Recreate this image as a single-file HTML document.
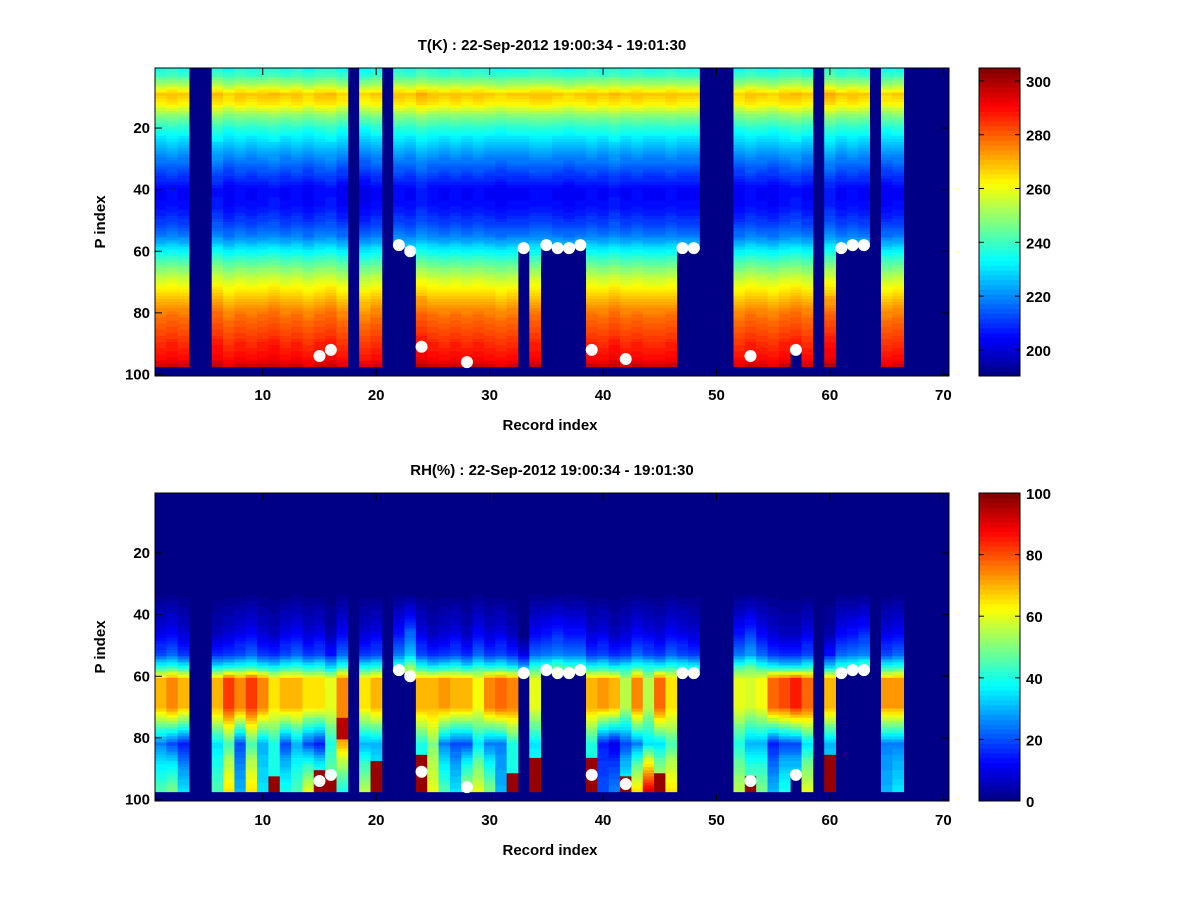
<!DOCTYPE html>
<html><head><meta charset="utf-8"><style>
body{margin:0;background:#fff;}
svg text{font-family:"Liberation Sans",sans-serif;font-weight:bold;font-size:15px;fill:#000;}
</style></head><body>
<svg id="fig" width="1200" height="900" xmlns="http://www.w3.org/2000/svg">
<rect width="1200" height="900" fill="#fff"/>
</svg>
<script>
// ---- data ----
const records = Array.from({length:70},(_,i)=>i+1);
const missingRecords = [4,5,18,21,49,50,51,59,64,67,68,69,70];
const cutRecords = [22,23,33,35,36,37,38,47,48,57,61,62,63];
const cutP =       [58,60,59,58,59,59,58,59,59,92,59,58,58];
const lastDataP = 97;
const tKnotsP = [1,3,6,9,12,16,20,28,35,40,45,50,55,60,65,70,75,80,85,90,95,97];
const tKnotsV = [236,240,252,268,263,248,237,222,211,204,205,210,218,233,246,258,268,276,281,286,290,295];
const tOffset = [0,1,0,0,0,2,-1,1,0,1,2,0,1,-1,1,2,-1,0,-2,0,0,1,0,3,1,0,1,0,1,0,-1,0,0,1,1,0,-1,0,1,0,2,0,1,0,0,1,0,0,0,0,0,-1,1,0,-1,1,2,0,0,3,0,1,0,0,-1,0,0,0,0,0];
const rhUpper = [10,12,8,0,0,6,8,10,12,8,6,10,12,8,10,4,12,0,8,10,0,14,22,10,6,8,10,6,12,8,10,6,0,12,14,16,14,14,8,10,6,8,12,10,8,12,10,8,0,0,0,14,18,12,8,6,6,10,0,4,12,14,16,0,10,12,0,0,0,0];
const rhMid = [70,75,70,0,0,70,82,75,82,75,65,70,70,65,65,60,75,0,65,70,0,55,60,70,70,72,70,70,62,75,78,75,60,60,55,55,55,55,70,72,70,55,75,55,78,65,55,55,0,0,0,60,58,62,78,80,85,78,0,70,55,55,55,0,72,72,0,0,0,0];
const rhLow = [25,20,15,0,0,35,45,20,45,30,40,20,30,20,15,40,70,0,30,30,0,30,30,40,50,25,20,20,35,25,25,40,35,35,30,30,30,30,40,15,10,20,25,35,35,45,30,30,0,0,0,40,30,30,15,20,20,35,0,30,30,30,30,0,25,25,0,0,0,0];
const rhBot = [45,50,35,0,0,45,65,30,65,35,40,40,45,60,55,50,40,0,55,40,0,40,40,40,60,45,35,55,60,50,30,40,45,45,40,40,40,40,40,20,25,40,65,90,60,65,40,40,0,0,0,55,50,50,30,40,40,60,0,40,40,40,40,0,30,35,0,0,0,0];
const rhSpikeP = [0,0,0,0,0,0,0,0,0,0,93,0,0,0,91,93,0,0,0,88,0,0,0,86,0,0,0,0,0,0,0,92,0,87,0,0,0,0,87,0,0,93,0,0,92,0,0,0,0,0,0,0,93,0,0,0,0,0,0,86,0,0,0,0,0,0,0,0,0,0];
const dotRec = [15,16,22,23,24,28,33,35,36,37,38,39,42,47,48,53,57,61,62,63];
const dotP =   [94,92,58,60,91,96,59,58,59,59,58,92,95,59,59,94,92,59,58,58];
const xTicks = [10,20,30,40,50,60,70];
const yTicks = [20,40,60,80,100];
const tCbTicks = [200,220,240,260,280,300];
const rhCbTicks = [0,20,40,60,80,100];

// ---- helpers ----
const NS="http://www.w3.org/2000/svg";
const svg=document.getElementById('fig');
function mk(tag,attrs,parent){const e=document.createElementNS(NS,tag);for(const k in attrs)e.setAttribute(k,attrs[k]);(parent||svg).appendChild(e);return e;}
function jet(f){f=Math.max(0,Math.min(1,f));f=(Math.floor(f*63.999)+0.5)/64;
 const c=v=>Math.round(255*Math.max(0,Math.min(1,v)));
 return `rgb(${c(1.5-Math.abs(4*f-3))},${c(1.5-Math.abs(4*f-2))},${c(1.5-Math.abs(4*f-1))})`;}
function interp(kp,kv,p){if(p<=kp[0])return kv[0];for(let i=1;i<kp.length;i++){if(p<=kp[i]){const t=(p-kp[i-1])/(kp[i]-kp[i-1]);return kv[i-1]+t*(kv[i]-kv[i-1]);}}return kv[kv.length-1];}
function cut(r){if(missingRecords.includes(r))return 0;const i=cutRecords.indexOf(r);return i>=0?cutP[i]:lastDataP;}
function tVal(r,p){return interp(tKnotsP,tKnotsV,p)+tOffset[r-1];}
function rhVal(r,p){const i=r-1;const u=rhUpper[i],m=rhMid[i],l=rhLow[i],b=rhBot[i];
 if(rhSpikeP[i]&&p>=rhSpikeP[i])return 98;
 if(r===17&&p>=74&&p<=80)return 95;
 return interp([1,32,38,46,53,57,61,70,76,82,88,97],[0,0,u*0.4,u,u+10,u+30,m,m,(m+l)/2,l,(l+b)/2,b],p);}

function drawPanel(cfg){
 const L=155,R=949,T=cfg.top,B=cfg.top+308;
 const xs=v=>L+(v-0.5)*(R-L)/70, ys=v=>T+(v-0.5)*(B-T)/100;
 const g=mk('g',{});
 
 
 mk('rect',{x:L,y:T,width:R-L,height:B-T,fill:jet(0)},g);
 const cmin=cfg.cmin,cmax=cfg.cmax;
 records.forEach(r=>{const c=cut(r);
  for(let p=1;p<=c;p++){const v=cfg.val(r,p);
   const cell=mk('rect',{x:xs(r-0.5),y:ys(p-0.5),width:xs(r+0.5)-xs(r-0.5)+0.4,height:ys(p+0.5)-ys(p-0.5)+0.4,fill:jet((v-cmin)/(cmax-cmin))},g);
   
   }});
 dotRec.forEach((r,i)=>{const d=mk('circle',{cx:xs(r),cy:ys(dotP[i]),r:6,fill:'#fff'});
  
  });
 const fr=mk('rect',{x:L,y:T,width:R-L,height:B-T,fill:'none',stroke:'#000','stroke-width':1});
 
 
 xTicks.forEach(t=>{const x=xs(t);mk('line',{x1:x,y1:B,x2:x,y2:B-7,stroke:'#000'});mk('line',{x1:x,y1:T,x2:x,y2:T+7,stroke:'#000'});
  const tl=mk('text',{x:x,y:B+24,'text-anchor':'middle'});tl.textContent=t;
  
  });
 yTicks.forEach(t=>{const y=ys(t);mk('line',{x1:L,y1:y,x2:L+7,y2:y,stroke:'#000'});mk('line',{x1:R,y1:y,x2:R-7,y2:y,stroke:'#000'});
  const tl=mk('text',{x:L-5,y:y+5,'text-anchor':'end'});tl.textContent=t;
  
  });
 const ti=mk('text',{x:552,y:T-18,'text-anchor':'middle'});ti.textContent=cfg.title;
 
 
 const xl=mk('text',{x:550,y:B+54,'text-anchor':'middle','font-size':'17px'});xl.textContent='Record index';
 
 
 const yl=mk('text',{x:0,y:0,'text-anchor':'middle','font-size':'17px',transform:`translate(105,${(T+B)/2}) rotate(-90)`});yl.textContent='P index';
 
 
 // colorbar
 const cL=979,cR=1020;
 const cb=mk('g',{});
 
 
 for(let k=0;k<64;k++){const y1=B-(k+1)*(B-T)/64;mk('rect',{x:cL,y:y1,width:cR-cL,height:(B-T)/64+0.5,fill:jet((k+0.5)/64)},cb);}
 mk('rect',{x:cL,y:T,width:cR-cL,height:B-T,fill:'none',stroke:'#000'},cb);
 const cys=v=>B-(v-cmin)/(cmax-cmin)*(B-T);
 cfg.cbTicks.forEach(t=>{const y=cys(t);mk('line',{x1:cR,y1:y,x2:cR-5,y2:y,stroke:'#000'},cb);mk('line',{x1:cL,y1:y,x2:cL+5,y2:y,stroke:'#000'},cb);
  const tl=mk('text',{x:cR+6,y:y+6},cb);tl.textContent=t;
  
  });
}
drawPanel({name:'temperature',top:68,cmin:190.3,cmax:304.8,val:tVal,cbTicks:tCbTicks,title:'T(K) : 22-Sep-2012 19:00:34 - 19:01:30'});
drawPanel({name:'humidity',top:493,cmin:0,cmax:100,val:rhVal,cbTicks:rhCbTicks,title:'RH(%) : 22-Sep-2012 19:00:34 - 19:01:30'});
</script>
</body></html>
